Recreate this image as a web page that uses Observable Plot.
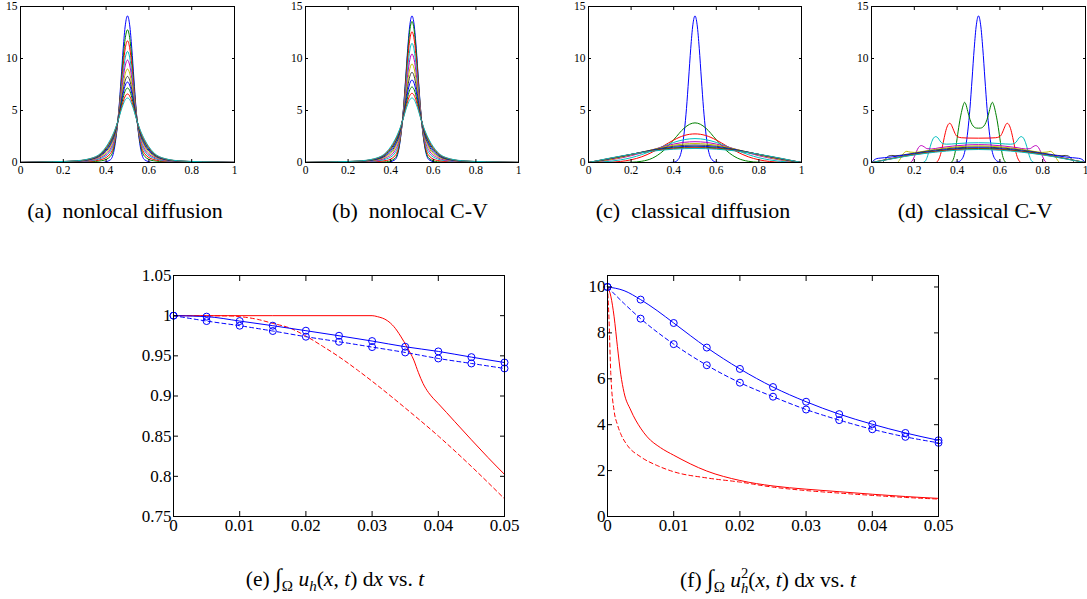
<!DOCTYPE html>
<html><head><meta charset="utf-8">
<script src="https://cdn.jsdelivr.net/npm/d3@7"></script>
<script src="https://cdn.jsdelivr.net/npm/@observablehq/plot@0.6"></script>
<style>
html,body{margin:0;padding:0;background:#fff;overflow:hidden;}
#fig{position:relative;width:1087px;height:599px;font-family:"Liberation Serif","Times New Roman","DejaVu Serif",serif;color:#000;overflow:hidden;}
.cap{position:absolute;white-space:nowrap;transform:translateX(-50%);font-size:22px;line-height:1;}
.capb{font-size:21.5px;}
.cap i{font-style:italic;}
.cap sub{font-size:0.7em;vertical-align:-0.35em;line-height:0;}
.ss{display:inline-block;vertical-align:-0.42em;font-size:0.68em;line-height:1;text-align:left;}
.ss span{display:block;}
.int{font-size:1.15em;}
</style></head><body><div id="fig"></div>
<script>
// ---------- tick values & labels ----------
const topXTicks = [0, 0.2, 0.4, 0.6, 0.8, 1];
const topXLabels = ["0", "0.2", "0.4", "0.6", "0.8", "1"];
const topYTicks = [0, 5, 10, 15];
const topYLabels = ["0", "5", "10", "15"];
const botXTicks = [0, 0.01, 0.02, 0.03, 0.04, 0.05];
const botXLabels = ["0", "0.01", "0.02", "0.03", "0.04", "0.05"];
const eYTicks = [0.75, 0.8, 0.85, 0.9, 0.95, 1, 1.05];
const eYLabels = ["0.75", "0.8", "0.85", "0.9", "0.95", "1", "1.05"];
const fYTicks = [0, 2, 4, 6, 8, 10];
const fYLabels = ["0", "2", "4", "6", "8", "10"];

// ---------- (a),(b): half profiles on a shared x grid (symmetric about 0.5) ----------
const halfGridAB = [0, 0.15, 0.25, 0.32, 0.38, 0.42, 0.44, 0.46, 0.47, 0.48, 0.49, 0.5];
const nonlocalDiffusion = [
  [0, 0, 0, 0, 0, 0.26, 1.49, 5.19, 8.03, 10.98, 13.24, 14.1],
  [0, 0.01, 0.03, 0.06, 0.17, 0.59, 1.76, 5.04, 7.51, 10.07, 12.02, 12.76],
  [0, 0.02, 0.05, 0.11, 0.30, 0.85, 1.98, 4.92, 7.11, 9.34, 11.05, 11.7],
  [0, 0.03, 0.06, 0.15, 0.43, 1.10, 2.19, 4.80, 6.72, 8.65, 10.13, 10.68],
  [0.01, 0.04, 0.08, 0.19, 0.54, 1.30, 2.36, 4.71, 6.40, 8.09, 9.37, 9.85],
  [0.01, 0.05, 0.10, 0.23, 0.65, 1.52, 2.53, 4.61, 6.07, 7.50, 8.59, 8.99],
  [0.01, 0.05, 0.11, 0.26, 0.74, 1.69, 2.68, 4.53, 5.80, 7.01, 7.94, 8.28],
  [0.01, 0.06, 0.12, 0.28, 0.81, 1.82, 2.79, 4.47, 5.59, 6.65, 7.45, 7.74],
  [0.01, 0.06, 0.13, 0.31, 0.88, 1.96, 2.90, 4.41, 5.37, 6.26, 6.93, 7.16],
  [0.01, 0.07, 0.14, 0.33, 0.95, 2.10, 3.02, 4.34, 5.15, 5.86, 6.40, 6.59],
  [0.01, 0.07, 0.15, 0.35, 1.0, 2.2, 3.1, 4.3, 5.0, 5.6, 6.05, 6.2]
];
const nonlocalCV = [
  [0, 0, 0, 0, 0, 0.26, 1.49, 5.19, 8.03, 10.98, 13.24, 14.1],
  [0, 0, 0.01, 0.02, 0.07, 0.40, 1.60, 5.13, 7.82, 10.60, 12.74, 13.56],
  [0, 0.01, 0.03, 0.07, 0.19, 0.64, 1.80, 5.02, 7.44, 9.94, 11.85, 12.57],
  [0, 0.02, 0.05, 0.12, 0.34, 0.91, 2.03, 4.89, 7.01, 9.18, 10.83, 11.45],
  [0, 0.03, 0.07, 0.16, 0.47, 1.16, 2.24, 4.78, 6.62, 8.48, 9.90, 10.43],
  [0.01, 0.04, 0.09, 0.21, 0.59, 1.40, 2.43, 4.67, 6.25, 7.83, 9.03, 9.47],
  [0.01, 0.05, 0.10, 0.24, 0.69, 1.59, 2.60, 4.58, 5.95, 7.28, 8.30, 8.67],
  [0.01, 0.05, 0.12, 0.27, 0.78, 1.78, 2.75, 4.49, 5.66, 6.78, 7.62, 7.93],
  [0.01, 0.06, 0.13, 0.30, 0.87, 1.94, 2.88, 4.42, 5.41, 6.32, 7.01, 7.26],
  [0.01, 0.07, 0.14, 0.33, 0.94, 2.09, 3.01, 4.35, 5.17, 5.91, 6.46, 6.65],
  [0.01, 0.07, 0.15, 0.35, 1.0, 2.2, 3.1, 4.3, 5.0, 5.6, 6.05, 6.2]
];

// ---------- (c),(d): half profiles as [x, u] pairs (symmetric about 0.5) ----------
const classicalDiffusion = [
  [[0,0],[0.38,0],[0.4,0.03],[0.42,0.26],[0.44,1.49],[0.46,5.19],[0.47,8.03],[0.48,10.98],[0.49,13.24],[0.5,14.1]],
  [[0,0],[0.1,0],[0.15,0.004],[0.2,0.026],[0.25,0.12],[0.3,0.415],[0.35,1.10],[0.4,2.19],[0.45,3.32],[0.475,3.68],[0.5,3.81]],
  [[0,0],[0.05,0.01],[0.1,0.03],[0.15,0.1],[0.2,0.26],[0.25,0.55],[0.3,1.0],[0.35,1.57],[0.4,2.16],[0.45,2.6],[0.5,2.75]],
  [[0,0],[0.05,0.04],[0.1,0.11],[0.15,0.25],[0.2,0.46],[0.25,0.76],[0.3,1.14],[0.35,1.55],[0.4,1.93],[0.45,2.2],[0.5,2.3]],
  [[0,0],[0.05,0.10],[0.1,0.24],[0.15,0.42],[0.2,0.65],[0.25,0.92],[0.3,1.22],[0.35,1.52],[0.4,1.77],[0.45,1.94],[0.5,2.0]],
  [[0,0],[0.05,0.12],[0.1,0.28],[0.15,0.48],[0.2,0.72],[0.25,0.98],[0.3,1.23],[0.35,1.47],[0.4,1.66],[0.45,1.78],[0.5,1.82]],
  [[0,0],[0.05,0.16],[0.1,0.35],[0.15,0.55],[0.2,0.77],[0.25,1.0],[0.3,1.21],[0.35,1.41],[0.4,1.56],[0.45,1.65],[0.5,1.68]],
  [[0,0],[0.05,0.18],[0.1,0.37],[0.15,0.57],[0.2,0.78],[0.25,0.98],[0.3,1.17],[0.35,1.34],[0.4,1.47],[0.45,1.54],[0.5,1.57]],
  [[0,0],[0.05,0.19],[0.1,0.39],[0.15,0.58],[0.2,0.78],[0.25,0.97],[0.3,1.14],[0.35,1.29],[0.4,1.40],[0.45,1.46],[0.5,1.48]],
  [[0,0],[0.05,0.20],[0.1,0.40],[0.15,0.59],[0.2,0.78],[0.25,0.95],[0.3,1.11],[0.35,1.24],[0.4,1.34],[0.45,1.39],[0.5,1.41]],
  [[0,0],[0.05,0.21],[0.1,0.42],[0.15,0.61],[0.2,0.79],[0.25,0.95],[0.3,1.09],[0.35,1.20],[0.4,1.28],[0.45,1.33],[0.5,1.35]]
];
const classicalCV = [
  [[0,0],[0.38,0],[0.4,0.03],[0.42,0.26],[0.44,1.49],[0.46,5.19],[0.47,8.03],[0.48,10.98],[0.49,13.24],[0.5,14.1]],
  [[0,0],[0.37,0],[0.38,0.2],[0.39,0.9],[0.4,2.3],[0.41,3.7],[0.42,4.8],[0.43,5.6],[0.435,5.79],[0.44,5.65],[0.45,4.9],[0.46,4.15],[0.47,3.65],[0.48,3.4],[0.49,3.31],[0.5,3.3]],
  [[0,0],[0.3,0],[0.31,0.15],[0.32,0.6],[0.33,1.4],[0.34,2.4],[0.35,3.25],[0.36,3.7],[0.365,3.77],[0.37,3.72],[0.38,3.3],[0.39,2.8],[0.4,2.5],[0.42,2.38],[0.45,2.35],[0.5,2.34]],
  [[0,0],[0.24,0],[0.25,0.1],[0.26,0.5],[0.27,1.2],[0.28,1.9],[0.29,2.35],[0.3,2.49],[0.31,2.38],[0.32,2.08],[0.33,1.85],[0.35,1.76],[0.4,1.82],[0.45,1.88],[0.5,1.9]],
  [[0,0],[0.18,0],[0.19,0.15],[0.2,0.55],[0.21,1.05],[0.22,1.45],[0.233,1.63],[0.245,1.52],[0.26,1.33],[0.28,1.3],[0.32,1.43],[0.38,1.58],[0.44,1.68],[0.5,1.72]],
  [[0,0],[0.12,0],[0.13,0.2],[0.14,0.55],[0.15,0.88],[0.165,1.07],[0.18,1.0],[0.2,0.97],[0.25,1.1],[0.3,1.26],[0.35,1.4],[0.4,1.5],[0.45,1.57],[0.5,1.6]],
  [[0,0],[0.05,0],[0.06,0.2],[0.07,0.45],[0.08,0.62],[0.095,0.68],[0.11,0.65],[0.15,0.74],[0.2,0.9],[0.25,1.06],[0.3,1.2],[0.35,1.32],[0.4,1.41],[0.45,1.47],[0.5,1.49]],
  [[0,0],[0.01,0.2],[0.025,0.38],[0.04,0.42],[0.06,0.46],[0.1,0.55],[0.15,0.7],[0.2,0.85],[0.25,0.99],[0.3,1.12],[0.35,1.24],[0.4,1.33],[0.45,1.39],[0.5,1.41]],
  [[0,0],[0.05,0.2],[0.1,0.41],[0.15,0.61],[0.2,0.79],[0.25,0.95],[0.3,1.08],[0.35,1.19],[0.4,1.28],[0.45,1.33],[0.5,1.35]],
  [[0,0],[0.05,0.19],[0.1,0.39],[0.15,0.58],[0.2,0.76],[0.25,0.91],[0.3,1.04],[0.35,1.15],[0.4,1.23],[0.45,1.28],[0.5,1.3]],
  [[0,0],[0.05,0.18],[0.1,0.37],[0.15,0.56],[0.2,0.73],[0.25,0.87],[0.3,1.0],[0.35,1.1],[0.4,1.18],[0.45,1.23],[0.5,1.25]]
];

// ---------- (e) mass vs t ----------
const markerT = [0, 0.005, 0.01, 0.015, 0.02, 0.025, 0.03, 0.035, 0.04, 0.045, 0.05];
const eBlueSolid  = [1, 0.9988, 0.9933, 0.9875, 0.9813, 0.975, 0.9684, 0.9613, 0.9555, 0.9484, 0.9417];
const eBlueDashed = [1, 0.9933, 0.9875, 0.9809, 0.9738, 0.9675, 0.9609, 0.9542, 0.9467, 0.9405, 0.9343];
const eRedSolid = [[0,1],[0.03,1],[0.0308,0.9988],[0.0323,0.9938],[0.0333,0.9863],[0.0343,0.9746],[0.0353,0.9605],[0.0363,0.9447],[0.037,0.929],[0.0377,0.9155],[0.0385,0.9045],[0.0393,0.8965],[0.04,0.8905],[0.0425,0.868],[0.045,0.8455],[0.0475,0.8235],[0.05,0.8024]];
const eRedDashed = [[0,1],[0.0087,0.9996],[0.01,0.9988],[0.0127,0.9954],[0.015,0.9904],[0.0177,0.9842],[0.02,0.9746],[0.0225,0.9621],[0.025,0.9488],[0.0278,0.9322],[0.03,0.9184],[0.035,0.8851],[0.04,0.8502],[0.045,0.8123],[0.05,0.772]];

// ---------- (f) energy vs t ----------
const fBlueSolid  = [10, 9.45, 8.43, 7.36, 6.43, 5.64, 5.0, 4.46, 4.02, 3.64, 3.32];
const fBlueDashed = [10, 8.62, 7.51, 6.59, 5.83, 5.22, 4.66, 4.20, 3.80, 3.47, 3.21];
const fBlueSolidLine = [[0,10],[0.0025,9.84],[0.005,9.45],[0.0075,8.97],[0.01,8.43],[0.015,7.36],[0.02,6.43],[0.025,5.64],[0.03,5.0],[0.035,4.46],[0.04,4.02],[0.045,3.64],[0.05,3.32]];
const fBlueDashedLine = [[0,10],[0.0025,9.28],[0.005,8.62],[0.01,7.51],[0.015,6.59],[0.02,5.83],[0.025,5.22],[0.03,4.66],[0.035,4.20],[0.04,3.80],[0.045,3.47],[0.05,3.21]];
const fRedSolid = [[0,10],[0.0005,9.6],[0.001,8.7],[0.0015,7.4],[0.002,6.2],[0.0025,5.4],[0.0035,4.64],[0.005,3.85],[0.006,3.47],[0.008,3.0],[0.01,2.67],[0.015,1.98],[0.02,1.57],[0.025,1.33],[0.03,1.19],[0.035,1.08],[0.04,0.97],[0.045,0.87],[0.05,0.79]];
const fRedDashed = [[0,10],[0.0002,8.8],[0.0005,6.2],[0.001,4.6],[0.0015,4.0],[0.002,3.6],[0.003,3.1],[0.005,2.6],[0.0075,2.22],[0.01,1.95],[0.015,1.68],[0.02,1.5],[0.025,1.28],[0.03,1.13],[0.035,1.02],[0.04,0.92],[0.045,0.83],[0.05,0.76]];

// ---------- styling (kept separate from data) ----------
const PAL = ["#0000ff", "#008000", "#ff0000", "#00bfbf", "#bf00bf", "#bfbf00", "#404040"];
const BLUE = "#0000ff", RED = "#ff0000";
const FONT = '"Liberation Serif", "Times New Roman", "DejaVu Serif", serif';
const fig = document.getElementById("fig");

function mirror(half) {
  const out = half.slice();
  for (let i = half.length - 1; i >= 0; i--) {
    const [x, y] = half[i];
    if (x < 0.5) out.push([1 - x, y]);
  }
  return out;
}
const onGrid = (grid, vals) => grid.map((x, i) => [x, vals[i]]);
const zipT = (vals) => markerT.map((t, i) => [t, vals[i]]);

function axes(xt, xl, yt, yl, tick, gap) {
  return [
    Plot.axisX(xt, {anchor: "bottom", tickSize: -tick, tickPadding: tick + gap, tickFormat: d => xl[xt.indexOf(d)], label: null}),
    Plot.axisX(xt, {anchor: "top", tickSize: -tick, tickPadding: 0, tickFormat: () => "", label: null}),
    Plot.axisY(yt, {anchor: "left", tickSize: -tick, tickPadding: tick + gap, tickFormat: d => yl[yt.indexOf(d)], label: null}),
    Plot.axisY(yt, {anchor: "right", tickSize: -tick, tickPadding: 0, tickFormat: () => "", label: null}),
    Plot.frame({stroke: "#000", strokeWidth: 1})
  ];
}

function panel(fr, marks, o) {
  const ml = 50, mr = 30, mt = 12, mb = 34;
  const svg = Plot.plot({
    width: fr.w + ml + mr, height: fr.h + mt + mb,
    marginLeft: ml, marginRight: mr, marginTop: mt, marginBottom: mb,
    x: {domain: o.xd}, y: {domain: o.yd},
    style: {fontFamily: FONT, fontSize: o.fs + "px", background: "transparent", overflow: "visible", color: "#000"},
    marks: [...marks, ...axes(o.xt, o.xl, o.yt, o.yl, o.tick, o.gap)]
  });
  svg.style.position = "absolute";
  svg.style.left = (fr.x - ml) + "px";
  svg.style.top = (fr.y - mt) + "px";
  svg.style.maxWidth = "none";
  svg.style.background = "transparent";
  svg.style.overflow = "visible";
  svg.style.fontFamily = FONT;
  fig.appendChild(svg);
}

const topOpts = {xd: [0, 1], yd: [0, 15], xt: topXTicks, xl: topXLabels, yt: topYTicks, yl: topYLabels, fs: 11.5, tick: 3, gap: 3};
const lineOpts = {x: d => d[0], y: d => d[1], curve: "monotone-x", strokeWidth: 1};

function profileMarks(curves) {
  return curves.map((pts, i) => Plot.line(mirror(pts), {...lineOpts, stroke: PAL[i % PAL.length]}));
}

panel({x: 20, y: 6, w: 214, h: 156}, profileMarks(nonlocalDiffusion.map(v => onGrid(halfGridAB, v))), topOpts);
panel({x: 305, y: 6, w: 213, h: 156}, profileMarks(nonlocalCV.map(v => onGrid(halfGridAB, v))), topOpts);
panel({x: 588, y: 6, w: 213, h: 156}, profileMarks(classicalDiffusion), topOpts);
panel({x: 871, y: 6, w: 214, h: 156}, profileMarks(classicalCV), topOpts);

const botBase = {xd: [0, 0.05], xt: botXTicks, xl: botXLabels, fs: 17, tick: 5, gap: 2};
const dash = "4,3";
const ring = {x: d => d[0], y: d => d[1], r: 3.5, stroke: BLUE, fill: "none", strokeWidth: 1};

panel({x: 173, y: 275, w: 331, h: 241}, [
  Plot.line(eRedSolid, {...lineOpts, stroke: RED}),
  Plot.line(eRedDashed, {...lineOpts, stroke: RED, strokeDasharray: dash}),
  Plot.line(zipT(eBlueSolid), {...lineOpts, stroke: BLUE}),
  Plot.line(zipT(eBlueDashed), {...lineOpts, stroke: BLUE, strokeDasharray: dash}),
  Plot.dot(zipT(eBlueSolid), ring),
  Plot.dot(zipT(eBlueDashed), ring)
], {...botBase, yd: [0.75, 1.05], yt: eYTicks, yl: eYLabels});

panel({x: 607, y: 275, w: 331, h: 241}, [
  Plot.line(fRedSolid, {...lineOpts, stroke: RED}),
  Plot.line(fRedDashed, {...lineOpts, stroke: RED, strokeDasharray: dash}),
  Plot.line(fBlueSolidLine, {...lineOpts, stroke: BLUE}),
  Plot.line(fBlueDashedLine, {...lineOpts, stroke: BLUE, strokeDasharray: dash}),
  Plot.dot(zipT(fBlueSolid), ring),
  Plot.dot(zipT(fBlueDashed), ring)
], {...botBase, yd: [0, 10.5], yt: fYTicks, yl: fYLabels});

// ---------- captions ----------
const captions = [
  {x: 125, y: 200, cls: "", html: "(a)&nbsp; nonlocal diffusion"},
  {x: 410, y: 200, cls: "", html: "(b)&nbsp; nonlocal C-V"},
  {x: 693, y: 200, cls: "", html: "(c)&nbsp; classical diffusion"},
  {x: 975, y: 200, cls: "", html: "(d)&nbsp; classical C-V"},
  {x: 335, y: 566, cls: "capb", html: '(e) <span class="int">∫</span><sub>Ω</sub> <i>u</i><sub><i>h</i></sub>(<i>x</i>, <i>t</i>) d<i>x</i> vs. <i>t</i>'},
  {x: 768, y: 566, cls: "capb", html: '(f) <span class="int">∫</span><sub>Ω</sub> <i>u</i><span class="ss"><span>2</span><span><i>h</i></span></span>(<i>x</i>, <i>t</i>) d<i>x</i> vs. <i>t</i>'}
];
for (const c of captions) {
  const d = document.createElement("div");
  d.className = "cap " + c.cls;
  d.style.left = c.x + "px";
  d.style.top = c.y + "px";
  d.innerHTML = c.html;
  fig.appendChild(d);
}
</script></body></html>
